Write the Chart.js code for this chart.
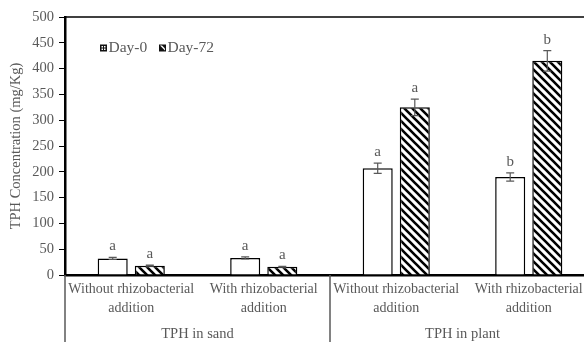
<!DOCTYPE html>
<html lang="en">
<head>
<meta charset="UTF-8" />
<title>TPH Concentration</title>
<style>
  html, body { margin: 0; padding: 0; background: #fff; overflow: hidden; }
  #wrap { width: 595px; height: 342px; }
</style>
</head>
<body>
<div id="wrap"><canvas id="tphChart" width="595" height="342"></canvas></div>
<script src="https://cdn.jsdelivr.net/npm/chart.js"></script>
<script>
// data
const categories = [
  ["Without rhizobacterial", "addition"],
  ["With rhizobacterial", "addition"],
  ["Without rhizobacterial", "addition"],
  ["With rhizobacterial", "addition"]
];
const groups = ["TPH in sand", "TPH in plant"];
const day0 = [32, 33, 207, 190];
const day72 = [18, 16, 325, 415];
const day0Err = [2, 2, 10, 8];
const day72Err = [1, 1, 16, 20];
const day0Letters = ["a", "a", "a", "b"];
const day72Letters = ["a", "a", "a", "b"];
const yMin = 0, yMax = 500, yStep = 50;

const FONT = "'Liberation Serif', 'Times New Roman', serif";
const TEXT = "#595959";

// diagonal hatch for Day-72
function hatch() {
  const c = document.createElement("canvas");
  c.width = 8; c.height = 8;
  const g = c.getContext("2d");
  g.fillStyle = "#fff";
  g.fillRect(0, 0, 8, 8);
  g.strokeStyle = "#000";
  g.lineWidth = 2.6;
  g.beginPath();
  g.moveTo(-2, -2); g.lineTo(10, 10);
  g.moveTo(-2, 6); g.lineTo(2, 10);
  g.moveTo(6, -2); g.lineTo(10, 2);
  g.stroke();
  return g.createPattern(c, "repeat");
}
const hatchFill = hatch();

const extras = {
  id: "extras",
  afterDatasetsDraw(chart) {
    const ctx = chart.ctx;
    const y = chart.scales.y;
    const x = chart.scales.x;
    const area = chart.chartArea;
    const errs = [day0Err, day72Err];
    const letters = [day0Letters, day72Letters];

    ctx.save();
    // error bars + letters
    chart.data.datasets.forEach((ds, di) => {
      const meta = chart.getDatasetMeta(di);
      meta.data.forEach((bar, i) => {
        const v = ds.data[i];
        const top = y.getPixelForValue(v + errs[di][i]);
        const bot = y.getPixelForValue(v - errs[di][i]);
        ctx.strokeStyle = "#595959";
        ctx.lineWidth = 1.2;
        ctx.beginPath();
        ctx.moveTo(bar.x, top); ctx.lineTo(bar.x, bot);
        ctx.moveTo(bar.x - 4, top); ctx.lineTo(bar.x + 4, top);
        ctx.moveTo(bar.x - 4, bot); ctx.lineTo(bar.x + 4, bot);
        ctx.stroke();
        ctx.fillStyle = TEXT;
        ctx.font = "15px " + FONT;
        ctx.textAlign = "center";
        ctx.textBaseline = "alphabetic";
        ctx.fillText(letters[di][i], bar.x, top - 7);
      });
    });

    // top frame line
    ctx.strokeStyle = "#000";
    ctx.lineWidth = 1.5;
    ctx.beginPath();
    ctx.moveTo(area.left, area.top); ctx.lineTo(area.right, area.top);
    ctx.stroke();

    // group separators and group labels
    const half = (x.getPixelForValue(1) - x.getPixelForValue(0)) / 2;
    const bounds = [x.getPixelForValue(0) - half, x.getPixelForValue(1) + half, x.getPixelForValue(3) + half];
    ctx.strokeStyle = "#595959";
    ctx.lineWidth = 1.5;
    ctx.beginPath();
    bounds.forEach(b => { ctx.moveTo(b, area.bottom); ctx.lineTo(b, chart.height); });
    ctx.stroke();
    ctx.fillStyle = TEXT;
    ctx.font = "14.5px " + FONT;
    ctx.textAlign = "center";
    ctx.textBaseline = "middle";
    groups.forEach((g, gi) => {
      ctx.fillText(g, (bounds[gi] + bounds[gi + 1]) / 2, 334);
    });

    // legend
    const items = [
      { label: chart.data.datasets[0].label, x: area.left + 35, hatch: false },
      { label: chart.data.datasets[1].label, x: area.left + 94, hatch: true }
    ];
    const ly = 48;
    ctx.font = "15.5px " + FONT;
    items.forEach(it => {
      ctx.fillStyle = "#111";
      ctx.fillRect(it.x, ly - 3.5, 7, 7);
      ctx.fillStyle = "#fff";
      if (it.hatch) {
        ctx.beginPath();
        ctx.moveTo(it.x + 1, ly - 2.5); ctx.lineTo(it.x + 3, ly - 2.5); ctx.lineTo(it.x + 6, ly + 0.5);
        ctx.lineTo(it.x + 6, ly + 2.5); ctx.closePath();
        ctx.fill();
      } else {
        ctx.fillRect(it.x + 1.5, ly - 2, 1.5, 1.5);
        ctx.fillRect(it.x + 4, ly - 2, 1.5, 1.5);
        ctx.fillRect(it.x + 1.5, ly + 0.5, 1.5, 1.5);
        ctx.fillRect(it.x + 4, ly + 0.5, 1.5, 1.5);
      }
      ctx.fillStyle = TEXT;
      ctx.textAlign = "left";
      ctx.textBaseline = "middle";
      ctx.fillText(it.label, it.x + 8.5, ly);
    });
    ctx.restore();
  }
};

new Chart(document.getElementById("tphChart"), {
  type: "bar",
  data: {
    labels: categories,
    datasets: [
      {
        label: "Day-0",
        data: day0,
        backgroundColor: "#fff",
        borderColor: "#000",
        borderWidth: 1.5,
        categoryPercentage: 0.56,
        barPercentage: 0.81
      },
      {
        label: "Day-72",
        data: day72,
        backgroundColor: hatchFill,
        borderColor: "#000",
        borderWidth: 1.5,
        categoryPercentage: 0.56,
        barPercentage: 0.81
      }
    ]
  },
  options: {
    responsive: false,
    animation: false,
    layout: { padding: { top: 17, left: 0, right: 0, bottom: 0 } },
    plugins: { legend: { display: false }, tooltip: { enabled: false } },
    scales: {
      x: {
        grid: { display: false, drawTicks: false },
        border: { display: true, color: "#000", width: 2.5 },
        ticks: {
          color: TEXT,
          font: { family: FONT, size: 14, lineHeight: 1.35 },
          padding: 5,
          maxRotation: 0,
          autoSkip: false
        },
        afterFit: s => { s.height = 67; }
      },
      y: {
        min: yMin,
        max: yMax,
        grid: { display: true, drawOnChartArea: false, drawTicks: true, tickLength: 6, color: "#000" },
        border: { display: true, color: "#000", width: 2.5 },
        ticks: {
          stepSize: yStep,
          color: TEXT,
          font: { family: FONT, size: 14.5 },
          padding: 5
        },
        title: {
          display: true,
          text: "TPH Concentration (mg/Kg)",
          color: TEXT,
          font: { family: FONT, size: 14.5 },
          padding: { top: 7, bottom: 0 }
        },
        afterFit: s => { s.width = 65; }
      }
    }
  },
  plugins: [extras]
});
</script>
</body>
</html>
